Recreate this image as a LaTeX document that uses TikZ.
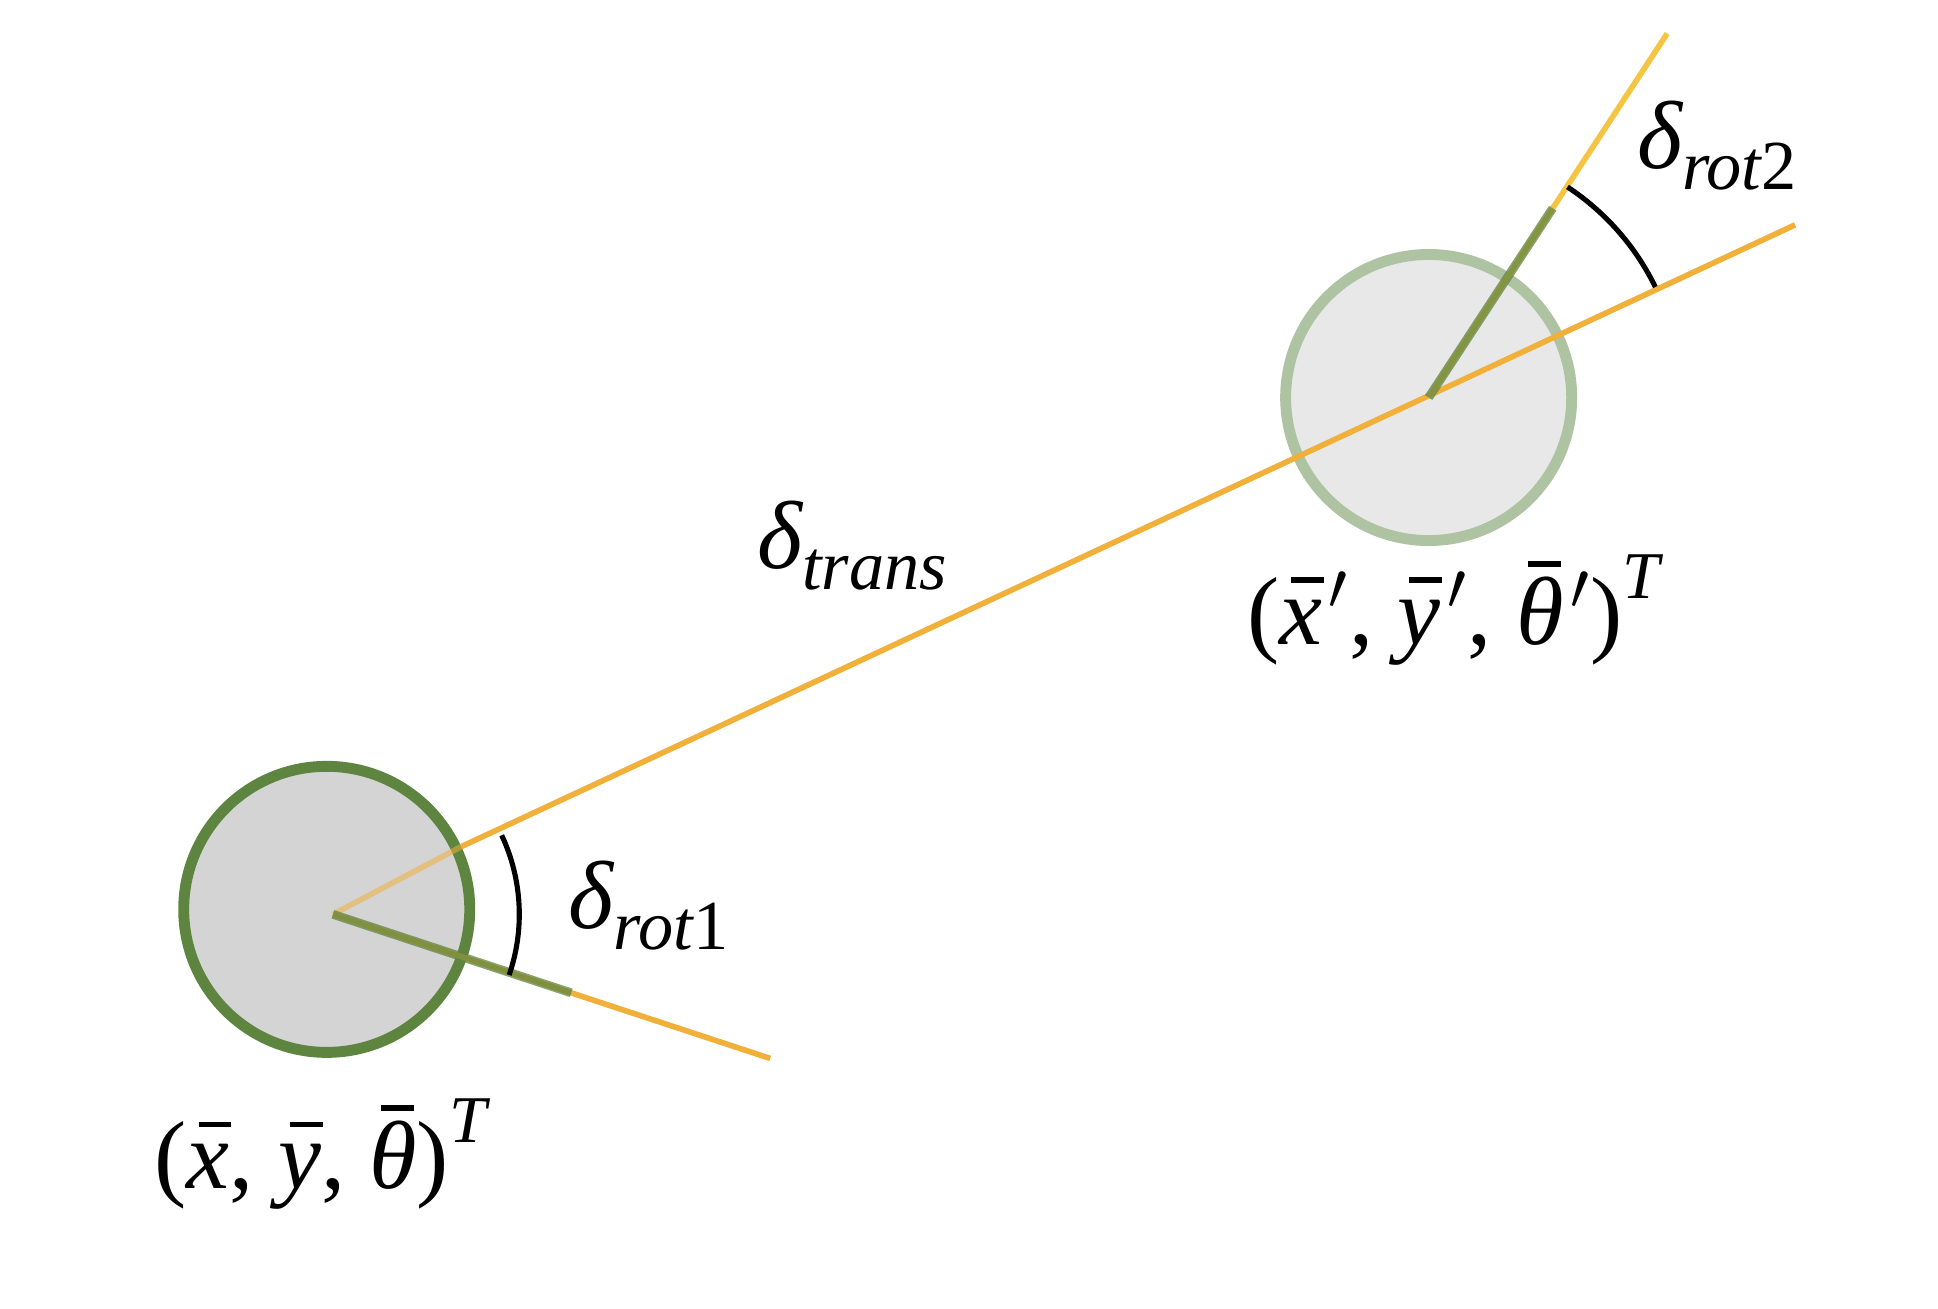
\RequirePackage{fix-cm}
\documentclass[tikz,border=0pt]{standalone}
\usepackage{amsmath}
\usepackage{fontspec}
\setmainfont{Liberation Serif}
\usepackage{tikz}
\usetikzlibrary{calc, positioning}

\definecolor{pathorange}{HTML}{F0B03A}
\definecolor{pathyellow}{HTML}{F6C443}
\definecolor{posegreen}{HTML}{5E8540}
\definecolor{palegreen}{HTML}{AEC3A1}

\newcommand{\ib}[2][0.63em]{\makebox[0pt][l]{\hspace{0.12em}\raisebox{#1}{\rule{0.34em}{0.06em}}}\textit{#2}}
\newcommand{\pr}{\kern0.07em$'$}
\newcommand{\lowsub}[1]{\raisebox{-0.22em}{\fontsize{20}{20}\selectfont #1}}
\newcommand{\highsup}[1]{\raisebox{0.47em}{\fontsize{19}{19}\selectfont\itshape #1}}

\begin{document}
\begin{tikzpicture}[
	x=0.01242cm, y=0.01242cm,
	pose/.style = {circle, inner sep=0pt, minimum size=2.86cm, line width=3.1pt},
	old pose/.style = {pose, draw=posegreen, fill=black!17},
	new pose/.style = {pose, draw=palegreen, fill=black!9},
	path line/.style = {draw=pathorange, line width=1.6pt},
	faded line/.style = {path line, opacity=0.55},
	heading line/.style = {draw=pathyellow, line width=1.6pt},
	heading/.style = {draw=posegreen, line width=2.5pt, opacity=0.75},
	angle arc/.style = {draw=black, line width=1.45pt},
	math label/.style = {font=\fontsize{27.5}{32}\selectfont, inner sep=0pt}
]
\useasboundingbox (0,0) rectangle (1560,1053);

\coordinate (c0) at (263,321);
\coordinate (p0) at (268,317);
\coordinate (p1) at (1150,733);
\coordinate (h0) at (620,201);
\coordinate (h1) at (1342,1026);
\coordinate (t1) at (1445,872);
\coordinate (g0) at ($ (p0)!0.545!(h0) $);
\coordinate (g1) at ($ (p1)!0.52!(h1) $);

\node[new pose] (pose1) at (p1) {};
\node[old pose] (pose0) at (c0) {};

\draw[faded line] (p0) -- (pose0.25);
\draw[path line] (pose0.25) -- (t1);
\draw[path line] (p0) -- (h0);
\draw[heading line] (p1) -- (h1);
\draw[heading] (p0) -- (g0);
\draw[heading] (p1) -- (g1);

\draw[angle arc] ($ (p0)+(-19:150) $) arc[start angle=-19, end angle=25.1, radius=150];
\draw[angle arc] ($ (p1)+(26:203) $) arc[start angle=26, end angle=56.6, radius=203];

\node[math label] (trans label) at (686,614) {{\itshape δ}\lowsub{\itshape trans}};
\node[math label] (rot1 label) at (522,324) {{\itshape δ}\lowsub{{\itshape rot}1}};
\node[math label] (rot2 label) at (1382,936) {{\itshape δ}\lowsub{{\itshape rot}2}};
\node[math label] (pose0 label) at (258,124) {(\ib{x}, \ib{y}, \ib[0.8em]{θ})\highsup{T}};
\node[math label] (pose1 label) at (1170,562) {(\ib{x}\pr, \ib{y}\pr, \ib[0.8em]{θ}\pr)\highsup{T}};

\end{tikzpicture}
\end{document}
